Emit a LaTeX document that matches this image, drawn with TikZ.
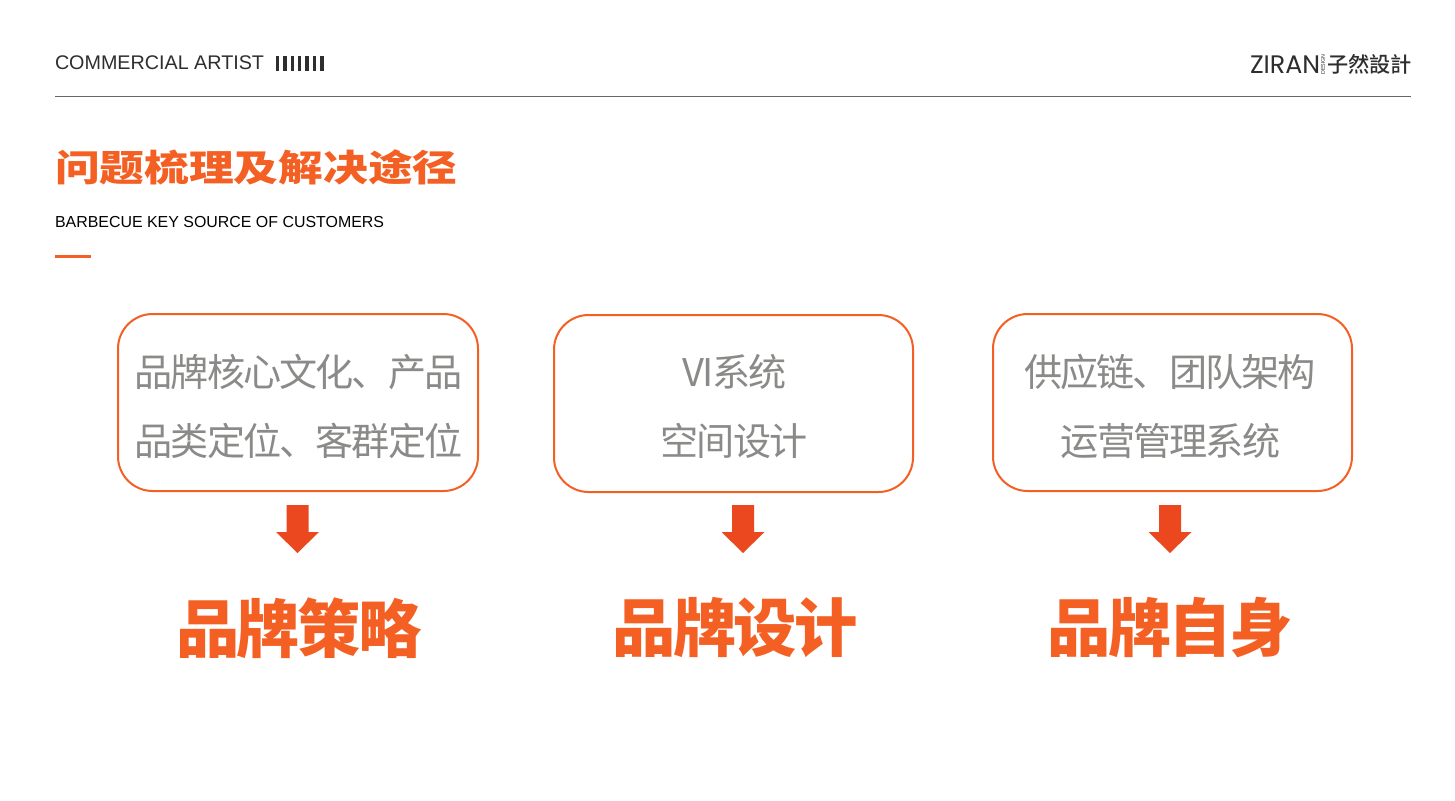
\documentclass[tikz,border=0pt]{standalone}
\usepackage{fontspec}
\setmainfont{Liberation Sans}
\newfontfamily\cjkreg[LetterSpace=-5]{Noto Sans CJK SC}
\newfontfamily\cjkblack{Noto Sans CJK SC Black}
\newfontfamily\cjkhead[LetterSpace=-4]{Noto Sans CJK SC Black}
\newfontfamily\cjktc{Noto Sans CJK TC Medium}
\newfontfamily\logofont{Poppins}
\definecolor{brandorange}{HTML}{F46023}
\definecolor{arroworange}{HTML}{EB4820}
\definecolor{greytext}{HTML}{8A8A88}
\definecolor{darktext}{HTML}{2E2E2E}
\tikzset{
  x=0.75pt,y=-0.75pt,
  txt/.style={inner sep=0pt,outer sep=0pt},
  cardbox/.style={draw=brandorange,line width=1.5pt,rounded corners=26pt,fill=white,inner sep=0pt},
  cardtext/.style={txt,text=greytext,font={\cjkreg\fontsize{28.6pt}{28.6pt}\selectfont}},
  headline/.style={txt,text=brandorange,font={\cjkhead\fontsize{47.5pt}{47.5pt}\selectfont}},
  downarrow/.style={fill=arroworange,draw=none},
}
\begin{document}
\begin{tikzpicture}
\useasboundingbox (0,0) rectangle (1455,800);
\fill[white] (0,0) rectangle (1455,800);
% header
\node[txt,anchor=west,text=darktext,font={\fontsize{14.8pt}{14.8pt}\selectfont}] (hdr) at (55,63) {COMMERCIAL ARTIST};
\foreach \i in {0,...,6} {\fill[darktext] (276+\i*7.35,55.5) rectangle ++(3.4,15);}
\coordinate (ruleL) at (55,96.5);
\coordinate (ruleR) at (1411,96.5);
\draw[line width=0.75pt,draw=black!60] (ruleL) -- (ruleR);
% logo
\node[txt,anchor=west,text=darktext,font={\logofont\fontsize{19pt}{19pt}\selectfont}] (logoa) at (1250,64.5) {ZIRAN};
\node[txt,rotate=90,text=darktext,font={\fontsize{4pt}{4pt}\selectfont}] (logob) at (1323,64.5) {DESIGN};
\node[txt,anchor=west,text=darktext,font={\cjktc\fontsize{15.9pt}{15.9pt}\selectfont}] (logoc) at (1327,64) {子然設計};
% title
\node[txt,anchor=west,xscale=1.22,text=brandorange,font={\cjkblack\fontsize{27.5pt}{27.5pt}\selectfont}] (title) at (55,167.5) {问题梳理及解决途径};
\node[txt,anchor=west,text=black,font={\fontsize{11.95pt}{11.95pt}\selectfont}] (sub) at (55,222) {BARBECUE KEY SOURCE OF CUSTOMERS};
\fill[brandorange] (55,254.5) rectangle (91,258);
% cards
\draw[cardbox] (118,314) rectangle (478,491);
\draw[cardbox] (554,315) rectangle (913,492);
\draw[cardbox] (993,314) rectangle (1352,491);
\node[cardtext] (a1) at (298.5,372) {品牌核心文化、产品};
\node[cardtext] (a2) at (298.5,441) {品类定位、客群定位};
\node[cardtext] (b1) at (734.5,372) {VI系统};
\node[cardtext] (b2) at (734,441) {空间设计};
\node[cardtext] (c1) at (1170,372) {供应链、团队架构};
\node[cardtext] (c2) at (1170.5,441) {运营管理系统};
% arrows
\foreach \n/\cx in {p/297.5,q/743,r/1170} {
  \coordinate (\n) at (\cx,505);
  \fill[downarrow] (\n) ++(-11,0) -- ++(22,0) -- ++(0,27) -- ++(10.5,0) -- ++(-21.5,21) -- ++(-21.5,-21) -- ++(10.5,0) -- cycle;
}
% headlines
\node[headline] (h1) at (299,628) {品牌策略};
\node[headline] (h2) at (735,628) {品牌设计};
\node[headline] (h3) at (1170,628) {品牌自身};
\end{tikzpicture}
\end{document}
